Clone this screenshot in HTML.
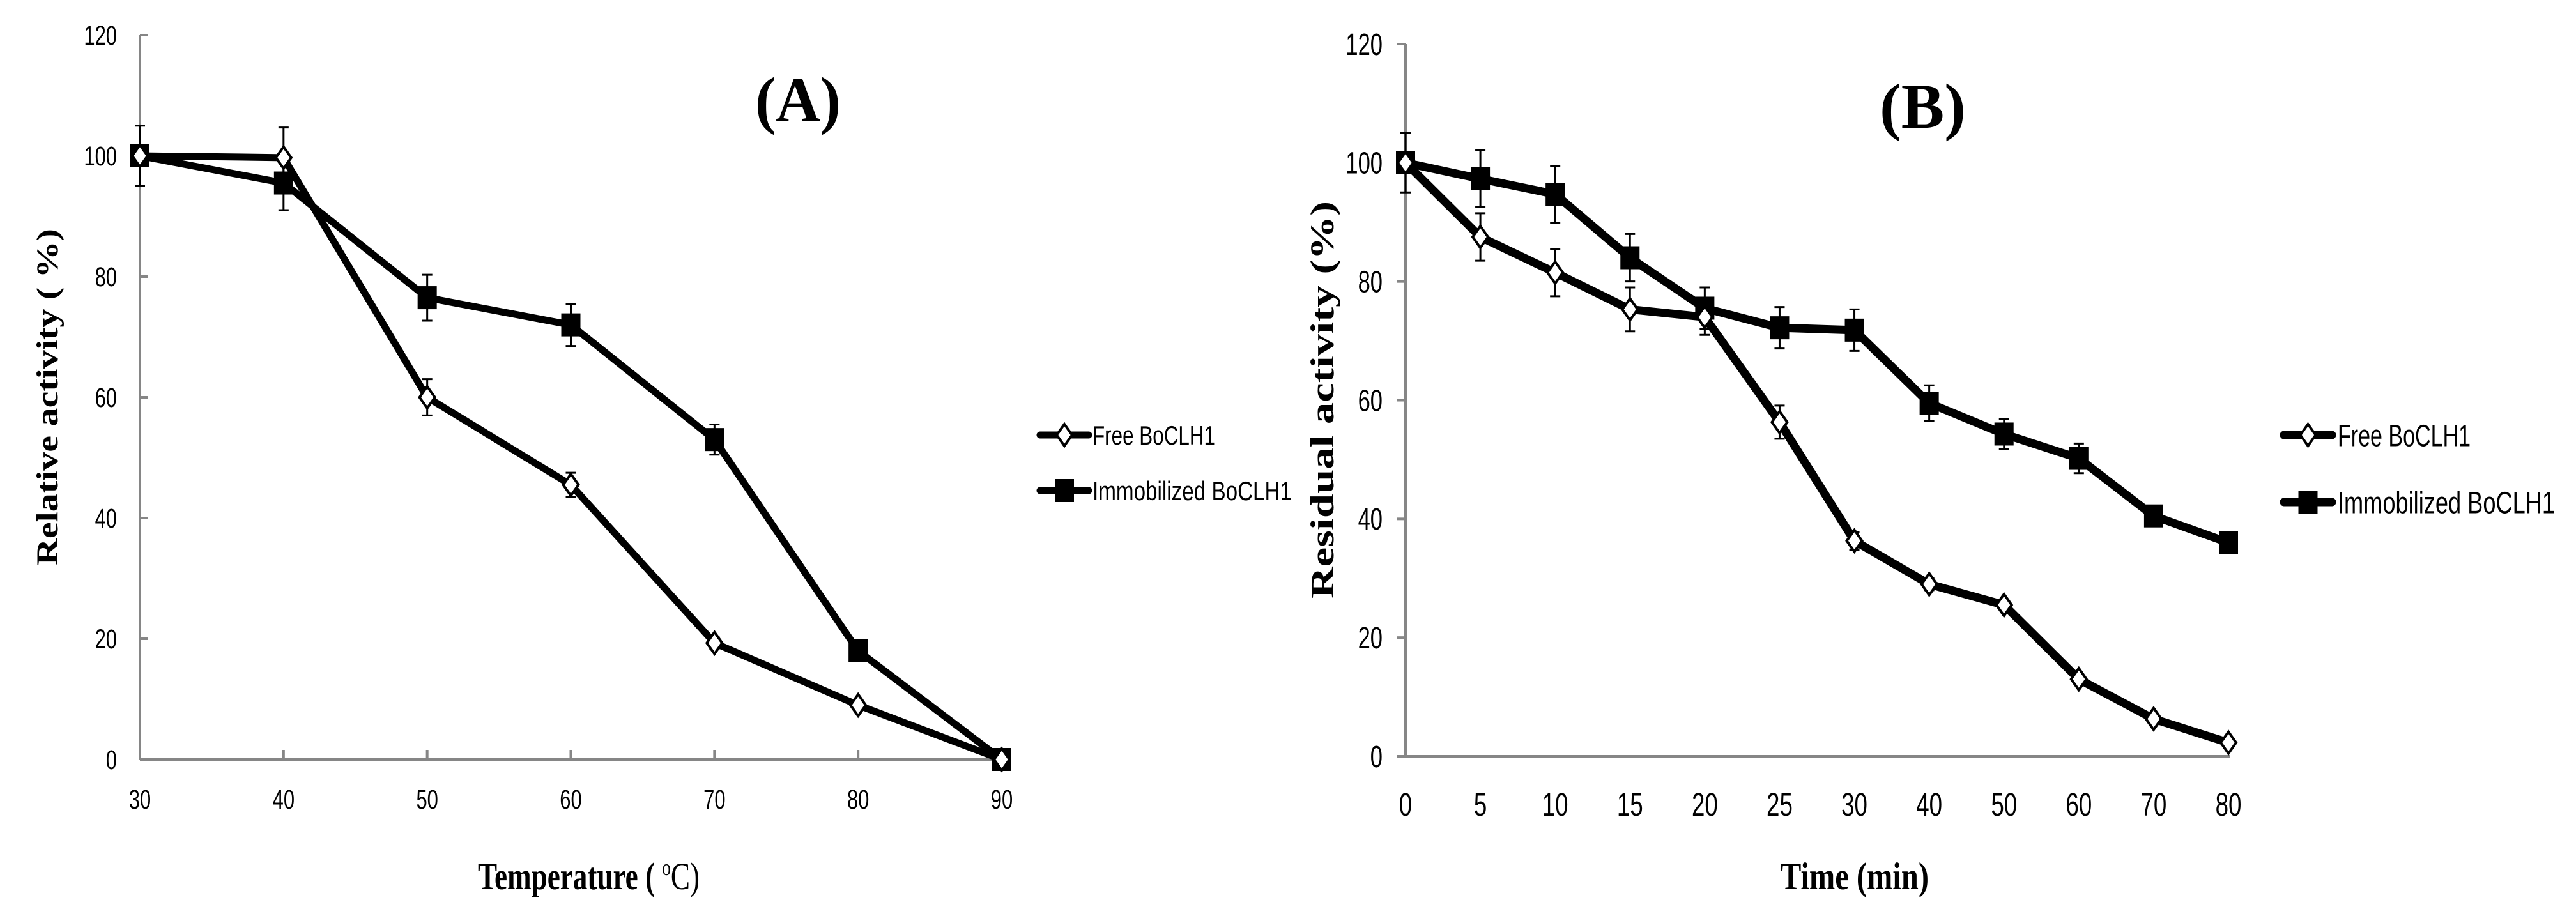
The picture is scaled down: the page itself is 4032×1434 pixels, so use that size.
<!DOCTYPE html>
<html><head><meta charset="utf-8"><style>
html,body{margin:0;padding:0;background:#fff;}
svg{display:block;}
.tk{font-family:"Liberation Sans",sans-serif;fill:#000;}
.ttl{font-family:"Liberation Serif",serif;font-weight:bold;fill:#000;}
</style></head><body>
<div style="position:relative;width:4032px;height:1434px;">
<svg id="chart" width="4032" height="1434" viewBox="0 0 4032 1434" xmlns="http://www.w3.org/2000/svg" style="position:absolute;left:0;top:0">
<g id="pa"></g>
<g id="pb"></g>
<text class="ttl" x="1182" y="190" font-size="100" textLength="134" lengthAdjust="spacingAndGlyphs">(A)</text>
<text class="ttl" x="2942" y="200" font-size="100" textLength="135" lengthAdjust="spacingAndGlyphs">(B)</text>
<text class="ttl" transform="translate(90,885) rotate(-90)" font-size="48" textLength="527" lengthAdjust="spacingAndGlyphs">Relative activity ( %)</text>
<text class="ttl" transform="translate(2087,937) rotate(-90)" font-size="52" textLength="622" lengthAdjust="spacingAndGlyphs">Residual activity (%)</text>
<text class="ttl" x="748" y="1392" font-size="60" textLength="347" lengthAdjust="spacingAndGlyphs">Temperature ( <tspan font-weight="normal" font-size="36" dy="-22">o</tspan><tspan font-weight="normal" dy="22">C)</tspan></text>
<text class="ttl" x="2787" y="1392" font-size="60" textLength="232" lengthAdjust="spacingAndGlyphs">Time (min)</text>
</svg>
</div>
<script>
// Panel A data
const catsA = [30, 40, 50, 60, 70, 80, 90];
const freeA = [100, 99.7, 60, 45.5, 19.3, 9, 0];
const freeErrA = [0, 5, 3, 2, 1, 0.5, 0];
const immA = [100, 95.5, 76.5, 72, 53, 18, 0];
const immErrA = [5, 4.5, 3.8, 3.5, 2.5, 1, 0];
const yTicksA = [0, 20, 40, 60, 80, 100, 120];
// Panel B data
const catsB = ["0","5","10","15","20","25","30","40","50","60","70","80"];
const freeB = [100, 87.5, 81.5, 75.3, 74, 56.3, 36.3, 29, 25.5, 13, 6.3, 2.3];
const freeErrB = [0, 4, 4, 3.7, 3, 2.8, 1.5, 1, 0.8, 0.8, 0.5, 0.5];
const immB = [100, 97.3, 94.7, 84, 75.5, 72.2, 71.8, 59.5, 54.3, 50.2, 40.5, 36];
const immErrB = [5, 4.8, 4.8, 4, 3.5, 3.5, 3.5, 3, 2.5, 2.5, 1, 1];
const yTicksB = [0, 20, 40, 60, 80, 100, 120];

const NS = "http://www.w3.org/2000/svg";
function mk(tag, attrs, parent){
  const e = document.createElementNS(NS, tag);
  for (const k in attrs) e.setAttribute(k, attrs[k]);
  parent.appendChild(e);
  return e;
}
function label(parent, x, y, txt, size, sx, anchor){
  const t = mk('text', {class:'tk', transform:`translate(${x},${y}) scale(${sx},1)`, 'font-size':size, 'text-anchor':anchor}, parent);
  t.textContent = txt;
  return t;
}

function panel(g, cfg){
  const n = cfg.cats.length;
  const xS = i => cfg.x0 + (cfg.x1 - cfg.x0) * i / (n - 1);
  const yS = v => cfg.y0 - (cfg.y0 - cfg.y1) * v / 120;
  const ya = mk('line', {x1:cfg.x0, y1:yS(120), x2:cfg.x0, y2:yS(0), stroke:'#868686', 'stroke-width':4}, g);
  
  
  const xa = mk('line', {x1:cfg.x0 - cfg.yTickLen, y1:yS(0), x2:cfg.x1 + 2, y2:yS(0), stroke:'#868686', 'stroke-width':4}, g);
  
  
  cfg.yTicks.forEach(v => {
    const tl = mk('line', {x1:cfg.x0, y1:yS(v), x2:cfg.x0 + cfg.yTickDir * 13, y2:yS(v), stroke:'#868686', 'stroke-width':4}, g);
    
    
    const t = label(g, cfg.yLabRight, yS(v) + cfg.ySize * 0.35, String(v), cfg.ySize, 0.72, 'end');
    
    
  });
  cfg.cats.forEach((c, i) => {
    if (cfg.xTicks) {
      const tl = mk('line', {x1:xS(i), y1:yS(0), x2:xS(i), y2:yS(0) - 15, stroke:'#868686', 'stroke-width':4}, g);
      
      
    }
    const t = label(g, xS(i), cfg.xLabY, String(c), cfg.xSize, 0.72, 'middle');
    
    
  });
  function series(vals, errs, kind){
    const sg = mk('g', {}, g);
    
    
    const pts = vals.map((v, i) => `${xS(i)},${yS(v)}`).join(' ');
    mk('polyline', {points:pts, fill:'none', stroke:'#000', 'stroke-width':cfg.lw, 'stroke-linejoin':'round'}, sg);
    vals.forEach((v, i) => {
      const e = errs[i];
      if (e > 0) {
        const x = xS(i), yt = yS(v + e), yb = yS(v - e);
        const eb = mk('path', {d:`M${x},${yt}V${yb}M${x-8},${yt}H${x+8}M${x-8},${yb}H${x+8}`, stroke:'#000', 'stroke-width':3, fill:'none'}, sg);
        
        
      }
    });
    vals.forEach((v, i) => {
      const x = xS(i), y = yS(v);
      let m;
      if (kind === 'd') {
        m = mk('polygon', {points:`${x},${y-17} ${x+12},${y} ${x},${y+17} ${x-12},${y}`, fill:'#fff', stroke:'#000', 'stroke-width':4}, sg);
      } else {
        m = mk('rect', {x:x-15, y:y-18, width:30, height:36, fill:'#000'}, sg);
      }
      
      
    });
  }
  series(cfg.imm, cfg.immErr, 's');
  series(cfg.free, cfg.freeErr, 'd');
  cfg.leg.forEach((L, k) => {
    const lg = mk('g', {}, g);
    
    
    mk('line', {x1:cfg.legX0, y1:L.y, x2:cfg.legX1, y2:L.y, stroke:'#000', 'stroke-width':cfg.lw, 'stroke-linecap':'round'}, lg);
    const mx = (cfg.legX0 + cfg.legX1) / 2;
    if (k === 0) mk('polygon', {points:`${mx},${L.y-17} ${mx+12},${L.y} ${mx},${L.y+17} ${mx-12},${L.y}`, fill:'#fff', stroke:'#000', 'stroke-width':4}, lg);
    else mk('rect', {x:mx-15, y:L.y-18, width:30, height:36, fill:'#000'}, lg);
    const t = mk('text', {class:'tk', x:cfg.legTextX, y:L.y + cfg.legSize*0.36, 'font-size':cfg.legSize, textLength:L.len, lengthAdjust:'spacingAndGlyphs'}, lg);
    t.textContent = L.text;
  });
}

panel(document.getElementById('pa'), {
  cats:catsA, free:freeA, freeErr:freeErrA, imm:immA, immErr:immErrA, yTicks:yTicksA,
  x0:219, x1:1568, y0:1189, y1:55, yTickDir:1, yTickLen:0, xTicks:true,
  yLabRight:183, ySize:43, xLabY:1266, xSize:43, lw:11,
  legX0:1628, legX1:1704, legTextX:1710, legSize:42,
  leg:[{y:681, text:'Free BoCLH1', len:192},{y:768, text:'Immobilized BoCLH1', len:312}]
});
panel(document.getElementById('pb'), {
  cats:catsB, free:freeB, freeErr:freeErrB, imm:immB, immErr:immErrB, yTicks:yTicksB,
  x0:2200, x1:3488, y0:1184, y1:69, yTickDir:-1, yTickLen:13, xTicks:false,
  yLabRight:2164, ySize:48, xLabY:1277, xSize:51, lw:13,
  legX0:3575, legX1:3650, legTextX:3659, legSize:48,
  leg:[{y:681, text:'Free BoCLH1', len:208},{y:786, text:'Immobilized BoCLH1', len:340}]
});
</script>
</body></html>
